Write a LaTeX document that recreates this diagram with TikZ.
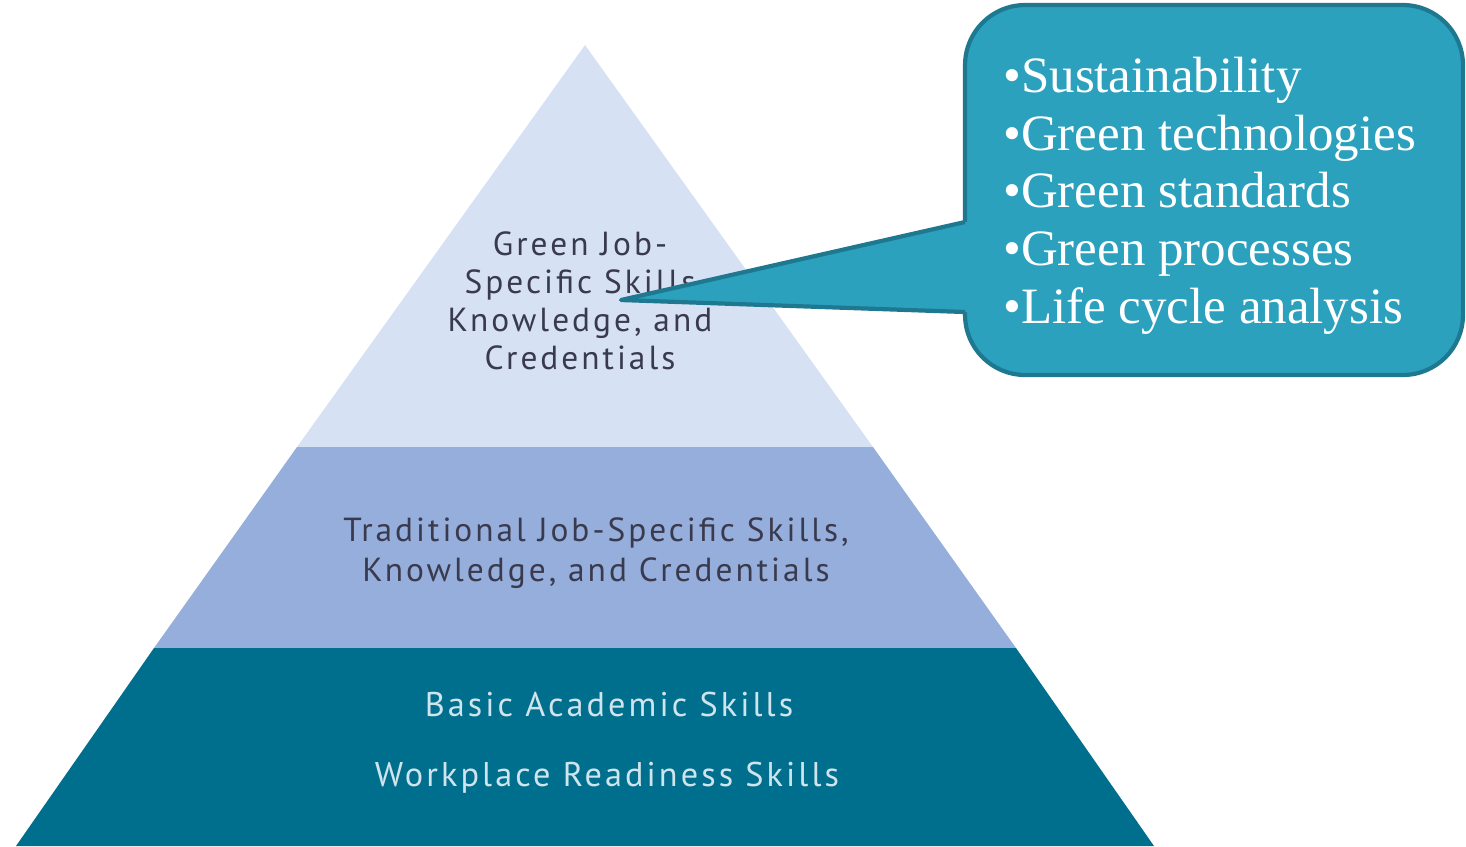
\documentclass[tikz,border=0pt]{standalone}
\usepackage{fontspec}
\setmainfont{Liberation Serif}
\newfontfamily\pyrfont[LetterSpace=9]{PT Sans}
\usetikzlibrary{positioning, calc}

\definecolor{tierTop}{HTML}{D6E2F4}
\definecolor{tierMid}{HTML}{95AEDB}
\definecolor{tierBase}{HTML}{006F8E}
\definecolor{calloutFill}{HTML}{2CA1BE}
\definecolor{calloutEdge}{HTML}{1E7990}
\definecolor{tierText}{HTML}{3A3A4E}
\definecolor{baseText}{HTML}{CFE4EC}

\tikzset{
  tiertext/.style={font=\pyrfont\fontsize{19}{21.6}\selectfont, text=tierText, align=center},
  basetext/.style={font=\pyrfont\fontsize{19.5}{21}\selectfont, text=baseText},
  callbox/.style={fill=calloutFill, draw=calloutEdge, line width=2.4pt, rounded corners=1.2cm,
    minimum width=9.96cm, minimum height=7.4cm},
  bullets/.style={font=\fontsize{29}{32.8}\selectfont, text=white, align=left, inner sep=0pt},
}

\begin{document}
\begin{tikzpicture}[x=0.02cm, y=-0.02cm]
  \useasboundingbox (0,0) rectangle (1466,846);

  % Pyramid tiers
  \fill[tierTop] (585,45) -- (873,447) -- (297,447) -- cycle;
  \fill[tierMid] (297,447) -- (873,447) -- (1016,648) -- (154,648) -- cycle;
  \fill[tierBase] (154,648) -- (1016,648) -- (1154,846) -- (16,846) -- cycle;

  % Tier labels
  \node[tiertext] (green) at (580,301) {Green Job-\\Specific Skills\\Knowledge, and\\Credentials};
  \node[tiertext, font=\pyrfont\fontsize{19}{22.8}\selectfont] (trad) at (596,553)
    {Traditional Job-Specific Skills,\\Knowledge, and Credentials};
  \node[basetext] (basic) at (609,704) {Basic Academic Skills};
  \node[basetext] (work) at (607,778) {Workplace Readiness Skills};

  % Callout
  \node[callbox] (callout) at (1214,190) {};
  \coordinate (tip) at (621,300);
  \coordinate (gapTop) at (965,222);
  \coordinate (gapBot) at (965,312);
  \fill[calloutFill] (tip) -- (gapTop) -- ([xshift=6pt]gapTop) -- ([xshift=6pt]gapBot) -- (gapBot) -- cycle;
  \draw[calloutEdge, line width=2.4pt, line join=round] (gapTop) -- (tip) -- (gapBot);

  \node[bullets, anchor=north west] (list) at (1003,57)
    {•Sustainability\\•Green technologies\\•Green standards\\•Green processes\\•Life cycle analysis};
\end{tikzpicture}
\end{document}
